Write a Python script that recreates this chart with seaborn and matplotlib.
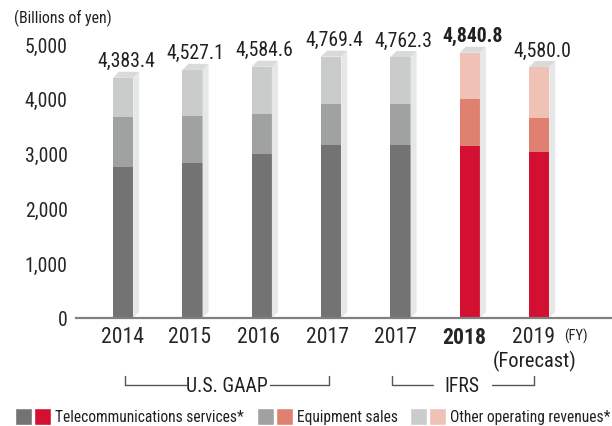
import numpy as np
import pandas as pd
import seaborn as sns
import matplotlib.pyplot as plt
from matplotlib import font_manager
from matplotlib.patches import Polygon, Rectangle

# === 1. Data (billions of yen) ===
keys = ["2014", "2015", "2016", "2017a", "2017b", "2018", "2019"]
year_labels = ["2014", "2015", "2016", "2017", "2017", "2018", "2019"]
telecom = [2756, 2823, 2987, 3151, 3151, 3133, 3024]
equipment = [905, 856, 729, 747, 747, 856, 619]
other = [722.4, 848.1, 868.6, 871.4, 864.3, 851.8, 937.0]
totals = [4383.4, 4527.1, 4584.6, 4769.4, 4762.3, 4840.8, 4580.0]
total_labels = ["4,383.4", "4,527.1", "4,584.6", "4,769.4", "4,762.3", "4,840.8", "4,580.0"]
is_ifrs = [False, False, False, False, False, True, True]  # red bars

grey = {"tel": "#737373", "eq": "#a0a2a1", "oth": "#cacccb"}
red = {"tel": "#d31032", "eq": "#e08070", "oth": "#f0c2b6"}

df = pd.DataFrame({"key": keys, "telecom": telecom, "equipment": equipment, "other": other})
df["lvl_eq"] = df["telecom"] + df["equipment"]
df["lvl_all"] = df["lvl_eq"] + df["other"]

# === 2. Font: prefer a condensed face ===
entries = font_manager.fontManager.ttflist
base_font, stretch, k = "Liberation Sans", "normal", 0.84
for name, st in [("Liberation Sans Narrow", None), ("Roboto Condensed", None),
                 ("Open Sans Condensed", None), ("DejaVu Sans", "condensed")]:
    hit = [f for f in entries if f.name == name and (st is None or str(f.stretch) in ("condensed", "semi-condensed", "75", "87"))]
    if hit:
        base_font, stretch, k = name, (st or "normal"), 0.95
        break

sns.set_style("white")
plt.rcParams["font.family"] = [base_font, "DejaVu Sans"]
plt.rcParams["font.stretch"] = stretch
plt.rcParams["text.color"] = "#231f20"

# === 3. Figure ===
fig = plt.figure(figsize=(6.12, 4.27), dpi=100)
W, H = 612, 427
ax = fig.add_axes([76 / W, 108 / H, 536 / W, 274 / H])

bar_w = 0.29
for col, part in [("lvl_all", "oth"), ("lvl_eq", "eq"), ("telecom", "tel")]:
    pal = {kk: (red if r else grey)[part] for kk, r in zip(keys, is_ifrs)}
    sns.barplot(data=df, x="key", y=col, hue="key", palette=pal, order=keys,
                width=bar_w, saturation=1, legend=False, ax=ax, linewidth=0)

ax.set_xlim(-0.68, 7.05)
ax.set_ylim(0, 5000)

# === 4. Fake 3D faces ===
dx = 6 / 69.33
dy = 6 / 274 * 5000
for i, t in enumerate(df["lvl_all"]):
    xl, xr = i - bar_w / 2, i + bar_w / 2
    ax.add_patch(Polygon([(xr, 0), (xr + dx, dy), (xr + dx, t + dy), (xr, t)],
                         closed=True, facecolor="#e6e7e7", edgecolor="none", zorder=1))
    ax.add_patch(Polygon([(xl, t), (xl + dx, t + dy), (xr + dx, t + dy), (xr, t)],
                         closed=True, facecolor="#d9dbda", edgecolor="none", zorder=1, clip_on=False))
    ax.annotate(total_labels[i], xy=(i + dx / 2, t + dy), xytext=(0, 4), textcoords="offset points",
                ha="center", va="baseline", fontsize=15 * k,
                fontweight="bold" if keys[i] == "2018" else "normal", annotation_clip=False)

# === 5. Axes styling ===
for s in ["left", "top", "right"]:
    ax.spines[s].set_visible(False)
ax.spines["bottom"].set_color("#808080")
ax.spines["bottom"].set_linewidth(1.6)
ax.set_yticks([0, 1000, 2000, 3000, 4000, 5000])
ax.set_yticklabels(["0", "1,000", "2,000", "3,000", "4,000", "5,000"])
ax.tick_params(axis="y", direction="in", length=5, width=1, color="#444444", pad=6, labelsize=15 * k)
ax.tick_params(axis="x", length=0, pad=6, labelsize=16.5 * k)
# year labels sit slightly left of the bars in the original
label_shift_px = [-1, -2.5, -3, -3.5, -5, -5.5, -5.5]
ax.set_xticks([i + s / 69.33 for i, s in enumerate(label_shift_px)])
ax.set_xticklabels(year_labels)
ax.get_xticklabels()[5].set_fontweight("bold")
ax.set_xlabel("")
ax.set_ylabel("")

fig.text(14 / W, 1 - 18 / H, "(Billions of yen)", fontsize=12 * k, va="center", ha="left")
ax.text(6.53, -0.065, "(FY)", transform=ax.get_xaxis_transform(), ha="center", va="center", fontsize=11 * k)
ax.text(5.94, -0.154, "(Forecast)", transform=ax.get_xaxis_transform(), ha="center", va="center", fontsize=15.5 * k)

# brackets below the years
tr = ax.get_xaxis_transform()
y_line = (319 - 386) / 274
y_tick = (319 - 377) / 274
y_txt = (319 - 387) / 274
for x0, g0, g1, x1, label, xc in [(0.03, 0.91, 2.12, 2.97, "U.S. GAAP", 1.5),
                                  (3.88, 4.47, 5.32, 5.93, "IFRS", 4.89)]:
    ax.plot([x0, x0, g0], [y_tick, y_line, y_line], color="#555555", lw=1, transform=tr, clip_on=False)
    ax.plot([g1, x1, x1], [y_line, y_line, y_tick], color="#555555", lw=1, transform=tr, clip_on=False)
    ax.text(xc, y_txt, label, transform=tr, ha="center", va="center", fontsize=15 * k)

# legend
items = [(15, grey["tel"], red["tel"], "Telecommunications services*"),
         (257, grey["eq"], red["eq"], "Equipment sales"),
         (410, grey["oth"], red["oth"], "Other operating revenues*")]
for x0, c1, c2, txt in items:
    fig.patches.append(Rectangle((x0 / W, 1 - 426 / H), 17 / W, 17 / H, facecolor=c1,
                                 transform=fig.transFigure, figure=fig))
    fig.patches.append(Rectangle(((x0 + 19) / W, 1 - 426 / H), 17 / W, 17 / H, facecolor=c2,
                                 transform=fig.transFigure, figure=fig))
    fig.text((x0 + 40) / W, 1 - 417.5 / H, txt, fontsize=11.8 * (k if k > 0.9 else 0.83),
             va="center", ha="left")

plt.savefig("out.png", dpi=100)
